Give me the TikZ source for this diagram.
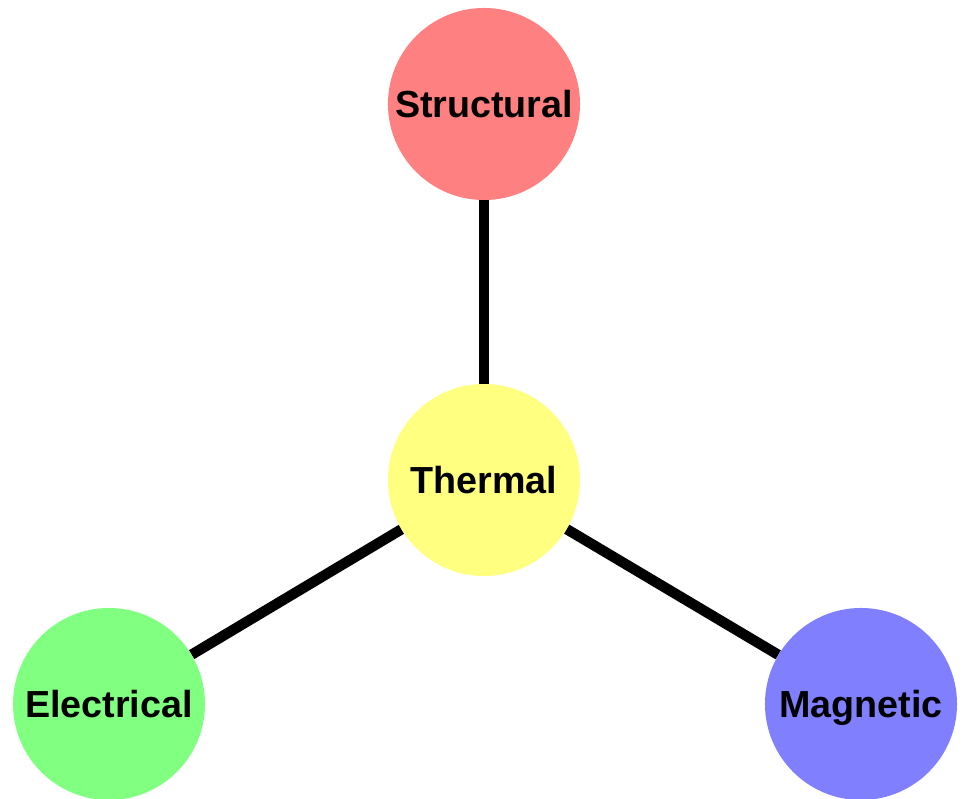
\documentclass[tikz,border=0pt]{standalone}
\usepackage{fontspec}
\setmainfont{Liberation Sans}
\usepackage{tikz}
\usetikzlibrary{positioning}

\definecolor{structred}{HTML}{FF8080}
\definecolor{thermyellow}{HTML}{FFFF80}
\definecolor{elecgreen}{HTML}{80FF80}
\definecolor{magblue}{HTML}{8080FF}

\begin{document}
\begin{tikzpicture}[
    x=0.025cm, y=-0.025cm,
    field/.style={circle, minimum size=4.8cm, inner sep=0pt, align=center,
      text depth=0pt, font=\fontsize{26.8}{30}\selectfont\bfseries},
    link/.style={line width=0.26cm}
]
\useasboundingbox (0,0) rectangle (963,799);

\node[field, fill=structred] (structural) at (484,104) {Structural};
\node[field, fill=thermyellow] (thermal) at (484,480) {Thermal};
\node[field, fill=elecgreen] (electrical) at (109,704) {Electrical};
\node[field, fill=magblue] (magnetic) at (861,704) {Magnetic};

\draw[link] (thermal) -- (structural);
\draw[link] (thermal) -- (electrical);
\draw[link] (thermal) -- (magnetic);
\end{tikzpicture}
\end{document}
